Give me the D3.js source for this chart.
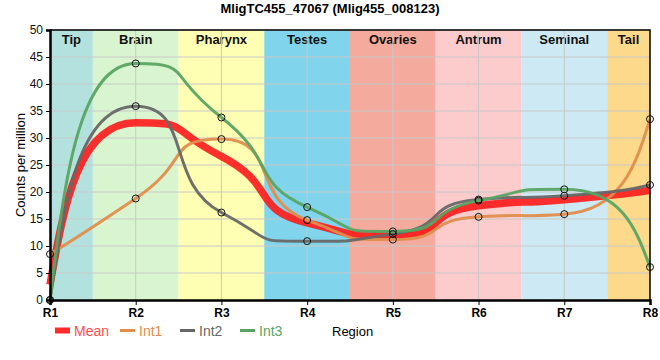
<!DOCTYPE html>
<html><head><meta charset="utf-8">
<script src="https://cdn.jsdelivr.net/npm/d3@7"></script>
<style>body{margin:0;background:#fff}svg{display:block;font-family:"Liberation Sans",Arial,sans-serif}</style>
</head><body><svg id="c" width="660" height="360"></svg>
<script>
const regions = ["R1","R2","R3","R4","R5","R6","R7","R8"];
const bandNames = ["Tip","Brain","Pharynx","Testes","Ovaries","Antrum","Seminal","Tail"];
const bandColors = ["#b3e2de","#d9f5d0","#ffffb3","#80d4eb","#f4aa9c","#fccbcb","#cdeaf4","#fdd98b"];
const int1 = [8.5, 18.8, 29.8, 14.8, 11.2, 15.4, 15.9, 33.5];
const int2 = [0, 35.9, 16.2, 10.9, 12.2, 18.6, 19.3, 21.3];
const int3 = [0, 43.8, 33.8, 17.2, 12.7, 18.4, 20.5, 6.1];
const yTicks = [0,5,10,15,20,25,30,35,40,45,50];
const meanVals = int1.map((v,i)=>(v+int2[i]+int3[i])/3);

const series = [
  {name:"Int1", vals:int1, color:"#e08d4c"},
  {name:"Int2", vals:int2, color:"#676767"},
  {name:"Int3", vals:int3, color:"#5aa463"},
];
const L=50,R=650,T=30,B=300;
const svg=d3.select("#c");
const x=d3.scalePoint().domain(regions).range([L,R]);
const y=d3.scaleLinear().domain([0,50]).range([B,T]);
const step=x.step();

// Custom monotone parametric Hermite curve for d3.line
function curveSmoothMono(context){
  let pts=[];
  return {
    areaStart(){}, areaEnd(){},
    lineStart(){pts=[];},
    point(px,py){pts.push([+px,+py]);},
    lineEnd(){
      const n=pts.length; if(!n) return;
      context.moveTo(pts[0][0],pts[0][1]);
      if(n===1) return;
      const tan=new Array(n);
      for(let i=1;i<n-1;i++){
        const s0=(pts[i][1]-pts[i-1][1])/(pts[i][0]-pts[i-1][0]);
        const s1=(pts[i+1][1]-pts[i][1])/(pts[i+1][0]-pts[i][0]);
        let m=0;
        if(s0*s1>0) m=2/(1/s0+1/s1);
        const dx=pts[i+1][0]-pts[i-1][0];
        tan[i]=[dx,dx*m];
      }
      if(n===2){
        tan[0]=[pts[1][0]-pts[0][0],pts[1][1]-pts[0][1]];
        tan[1]=tan[0];
      } else {
        tan[0]=[(3*(pts[1][0]-pts[0][0])-tan[1][0])/2,(3*(pts[1][1]-pts[0][1])-tan[1][1])/2];
        tan[n-1]=[(3*(pts[n-1][0]-pts[n-2][0])-tan[n-2][0])/2,(3*(pts[n-1][1]-pts[n-2][1])-tan[n-2][1])/2];
      }
      for(let i=0;i<n-1;i++){
        const p0=pts[i],p1=pts[i+1],t0=tan[i],t1=tan[i+1];
        context.bezierCurveTo(p0[0]+t0[0]/3,p0[1]+t0[1]/3,p1[0]-t1[0]/3,p1[1]-t1[1]/3,p1[0],p1[1]);
      }
    }
  };
}

svg.append("defs").append("clipPath").attr("id","clip").append("rect").attr("x",L).attr("y",T).attr("width",R-L).attr("height",B-T);

// bands
bandNames.forEach((n,i)=>{
  const cx=x(regions[i]);
  const x0=Math.max(L,cx-step/2), x1=Math.min(R,cx+step/2);
  svg.append("rect").attr("x",x0).attr("y",T).attr("width",x1-x0).attr("height",B-T).attr("fill",bandColors[i]);
  svg.append("text").attr("x",(x0+x1)/2).attr("y",T+14).attr("text-anchor","middle")
    .attr("font-size",13).attr("font-weight","bold").attr("fill","#111").text(n);
});
// grid
svg.append("g").selectAll("line").data(yTicks.slice(1)).join("line")
  .attr("x1",L).attr("x2",R).attr("y1",d=>y(d)).attr("y2",d=>y(d)).attr("stroke","#c8c8c8").attr("stroke-width",1);
svg.append("g").selectAll("line").data(regions.slice(1,-1)).join("line")
  .attr("x1",d=>x(d)).attr("x2",d=>x(d)).attr("y1",T).attr("y2",B).attr("stroke","#c8c8c8").attr("stroke-width",1);

const line=d3.line().x((d,i)=>x(regions[i])).y(d=>y(d)).curve(curveSmoothMono);
const g=svg.append("g");
g.append("path").attr("d",line(meanVals)).attr("fill","none").attr("stroke","#ff1a1a").attr("stroke-opacity",0.9).attr("stroke-width",7.5);
series.forEach(s=>{
  g.append("path").attr("d",line(s.vals)).attr("fill","none").attr("stroke",s.color).attr("stroke-width",3).attr("stroke-opacity",0.95);
});
// points
series.forEach(s=>{
  svg.append("g").selectAll("circle").data(s.vals).join("circle")
    .attr("cx",(d,i)=>x(regions[i])).attr("cy",d=>y(d)).attr("r",3.5)
    .attr("fill","none").attr("stroke","#111").attr("stroke-width",1);
});
// frame
svg.append("path").attr("d",`M${L},${T}H${R}V${B}`).attr("fill","none").attr("stroke","#000").attr("stroke-width",1.5);
// axes
const ya=svg.append("g").attr("transform",`translate(${L},0)`).call(d3.axisLeft(y).tickValues(yTicks).tickSize(4).tickPadding(3));
ya.select(".domain").attr("stroke-width",2.5);
ya.selectAll("text").attr("font-size",12).attr("fill","#111").attr("font-family","Liberation Sans, Arial, sans-serif");
const xa=svg.append("g").attr("transform",`translate(0,${B})`).call(d3.axisBottom(x).tickSize(5).tickPadding(3));
xa.select(".domain").attr("stroke-width",2.5);
xa.selectAll("text").attr("font-size",12).attr("font-weight","bold").attr("fill","#000").attr("font-family","Liberation Sans, Arial, sans-serif");

// title
svg.append("text").attr("x",330).attr("y",13).attr("text-anchor","middle").attr("font-size",13).attr("font-weight","bold").text("MligTC455_47067 (Mlig455_008123)");
svg.append("text").attr("transform","translate(25,165) rotate(-90)").attr("text-anchor","middle").attr("font-size",13).text("Counts per million");
svg.append("text").attr("x",332).attr("y",336).attr("font-size",13).text("Region");

// legend
const leg=[{name:"Mean",color:"#ff2a2a",w:6,tc:"#ff4d4d"}].concat(series.map(s=>({name:s.name,color:s.color,w:3,tc:s.color})));
const lx=[55,120,180,240];
leg.forEach((d,i)=>{
  svg.append("line").attr("x1",lx[i]).attr("x2",lx[i]+15).attr("y1",330.5).attr("y2",330.5).attr("stroke",d.color).attr("stroke-width",d.w);
  svg.append("text").attr("x",lx[i]+19).attr("y",336).attr("font-size",14).attr("fill",d.tc).text(d.name);
});
</script></body></html>
